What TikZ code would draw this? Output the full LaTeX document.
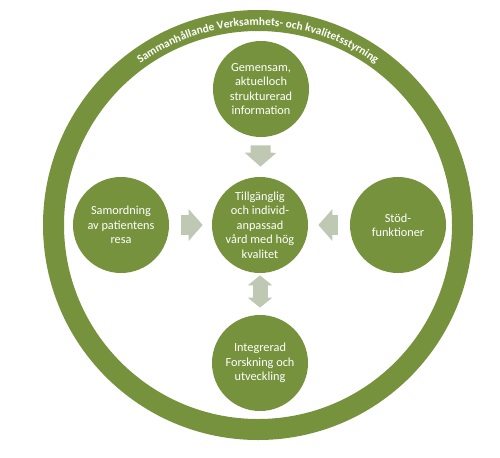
\documentclass[tikz,border=0pt]{standalone}
\usepackage{fontspec}
\setmainfont{Carlito}
\usetikzlibrary{arrows.meta,calc,decorations.text}

\definecolor{olivgron}{RGB}{118,146,60}
\definecolor{pilgra}{RGB}{190,200,178}
\tikzstyle{cirkel}=[circle, fill=olivgron, text=white, minimum size=1.92cm, inner sep=0pt, align=center, font=\fontsize{7}{8.2}\selectfont]
\tikzstyle{pil}=[pilgra, line width=0.4cm, -{Triangle[width=0.62cm,length=0.28cm]}]
\tikzstyle{dubbelpil}=[pilgra, line width=0.3cm, {Triangle[width=0.48cm,length=0.2cm]}-{Triangle[width=0.48cm,length=0.2cm]}]

\begin{document}
\begin{tikzpicture}
            \useasboundingbox (0,0) rectangle (10,9.14);

            % Yttre ring med text
            \coordinate (M) at (5.16,4.64);
            \draw[olivgron, line width=0.42cm] (M) circle (4.09cm);
            \path[decorate, decoration={text along path, text align=center,
                text={|\bfseries\color{white}\fontsize{6.5}{7}\selectfont|Sammanhållande Verksamhets- och kvalitetsstyrning}}]
                ($(M)+(150:3.99cm)$) arc[start angle=150, end angle=30, radius=3.99cm];

            % Cirklar
            \node[cirkel] (C) at (5.2,4.64) {Tillgänglig\\och individ-\\anpassad\\vård med hög\\kvalitet};
            \node[cirkel] (T) at (5.22,7.36) {Gemensam,\\aktuelloch\\strukturerad\\information};
            \node[cirkel] (V) at (2.42,4.64) {Samordning\\av patientens\\resa};
            \node[cirkel] (H) at (7.96,4.64) {Stöd-\\funktioner};
            \node[cirkel] (U) at (5.2,1.88) {Integrerad\\Forskning och\\utveckling};

            % Pilar mot mitten
            \draw[pil, shorten <=0.16cm, shorten >=0.2cm] (T) -- (C);
            \draw[pil, shorten <=0.24cm, shorten >=0.18cm] (V) -- (C);
            \draw[pil, shorten <=0.24cm, shorten >=0.2cm] (H) -- (C);
            \draw[dubbelpil, shorten <=0.04cm, shorten >=0.14cm] (C) -- (U);
\end{tikzpicture}
\end{document}
